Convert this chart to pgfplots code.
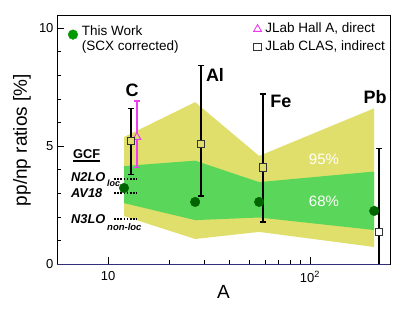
\documentclass[border=0pt]{standalone}
\usepackage{fontspec}
\setmainfont{Liberation Sans}
\usepackage{pgfplots}
\pgfplotsset{compat=1.18}
\definecolor{yband}{HTML}{E1DF6B}
\definecolor{gband}{HTML}{5AD75A}
\definecolor{dgreen}{HTML}{006400}
\definecolor{lgreen}{HTML}{009A00}
\definecolor{mag}{HTML}{F03CF0}
\definecolor{navyax}{HTML}{30307A}
\begin{document}
\begin{tikzpicture}
\path[use as bounding box] (-57pt,-47pt) rectangle (358pt,264pt);
\begin{axis}[at={(0pt,0pt)}, anchor=south west,
  scale only axis, width=333pt, height=248pt,
  xmode=log, xmin=5.59, xmax=249, ymin=0, ymax=10.51,
  xtick={10,100}, xticklabels={10,10\textsuperscript{2}},
  ytick={0,5,10}, minor ytick={1,2,3,4,6,7,8,9},
  xtick pos=left, ytick pos=left, tick align=inside,
  major tick length=7pt, minor tick length=4pt,
  tick style={black, line width=0.6pt},
  axis line style={line width=1pt},
  /pgf/number format/assume math mode=true,
  ticklabel style={font=\fontsize{13}{15}\selectfont},
  xticklabel style={yshift=-4pt},
  xlabel={A}, ylabel={pp/np ratios [\%]},
  label style={font=\fontsize{19}{22}\selectfont},
  xlabel style={at={(axis description cs:0.5,-0.113)}, anchor=center},
  ylabel style={at={(axis description cs:-0.105,0.5)}, anchor=center},
]
% 95% band
\addplot[fill=yband, draw=none] coordinates {
 (12,5.38) (27,6.86) (56,4.58) (208,6.6) (208,0.72) (56,1.36) (27,1.06) (12,2.03)} -- cycle;
% 68% band
\addplot[fill=gband, draw=none] coordinates {
 (12,4.15) (27,4.38) (56,3.47) (208,3.92) (208,1.44) (56,1.97) (27,1.86) (12,2.58)} -- cycle;
% GCF theory lines
\addplot[black, line width=1.6pt, dash pattern=on 1.6pt off 1.6pt] coordinates {(10.7,3.59) (13.9,3.59)};
\addplot[black, line width=1.6pt, dash pattern=on 1.6pt off 1.6pt] coordinates {(10.7,3.02) (13.9,3.02)};
\addplot[black, line width=1.6pt, dash pattern=on 1.6pt off 1.6pt] coordinates {(10.7,1.91) (13.9,1.91)};
% JLab Hall A
\addplot[mag, only marks, mark=triangle*, mark size=4.5pt, line width=1pt,
  mark options={fill=yband},
  error bars/.cd, y dir=both, y explicit,
  error bar style={line width=1.4pt, mag},
  error mark options={rotate=90, mark size=3pt, line width=1.4pt, mag}]
  coordinates {(13.9,5.38) += (0,1.52) -= (0,1.28)};
% JLab CLAS error bars
\addplot[draw=none, mark=none, error bars/.cd, y dir=both, y explicit,
  error bar style={line width=1.4pt, black},
  error mark options={rotate=90, mark size=3pt, line width=1.4pt, black}]
  coordinates {(13,5.21) += (0,1.39) -= (0,1.41)
               (28.8,5.08) += (0,3.32) -= (0,2.2)
               (58.5,4.1) += (0,3.1) -= (0,2.32)
               (220,1.36) += (0,3.54) -= (0,2.5)};
\addplot[only marks, mark=square*, mark size=3.8pt, mark options={draw=black!80, fill=yband, line width=0.9pt}]
  coordinates {(13,5.21) (28.8,5.08) (58.5,4.1)};
\addplot[only marks, mark=square*, mark size=3.8pt, mark options={draw=black!80, fill=white, line width=0.9pt}]
  coordinates {(220,1.36)};
% this work
\addplot[only marks, mark=*, mark size=4.8pt, dgreen]
  coordinates {(12,3.22) (27,2.63) (56,2.63) (208,2.25)};
\end{axis}
\begin{axis}[at={(0pt,0pt)}, anchor=south west,
  scale only axis, width=333pt, height=248pt,
  xmin=0, xmax=1, ymin=0, ymax=1, hide axis,
  legend image code/.code={\draw[#1] plot coordinates {(0pt,0pt)};},
  legend cell align=left,
  legend style={at={(rel axis cs:0.033,0.925)}, anchor=west, draw=none, fill=none,
    inner sep=0pt, column sep=4pt, nodes={inner sep=0pt},
    font=\fontsize{13.5}{15}\selectfont},
]
\addlegendimage{only marks, mark=*, mark size=4.8pt, lgreen}
\addlegendentry{\begin{tabular}{@{}l@{}}This Work\\(SCX corrected)\end{tabular}}
\end{axis}
\begin{axis}[at={(0pt,0pt)}, anchor=south west,
  scale only axis, width=333pt, height=248pt,
  xmin=0, xmax=1, ymin=0, ymax=1, hide axis,
  legend image code/.code={\draw[#1] plot coordinates {(0pt,0pt)};},
  legend cell align=left,
  legend style={at={(rel axis cs:0.59,0.911)}, anchor=west, draw=none, fill=none,
    inner sep=0pt, column sep=4pt, row sep=6pt,
    nodes={inner sep=0pt, text height=9pt, text depth=3pt},
    font=\fontsize{13.5}{15}\selectfont},
]
\addlegendimage{only marks, mark=triangle, mark size=4.5pt, line width=0.9pt, mag}
\addlegendentry{JLab Hall A, direct}
\addlegendimage{only marks, mark=square, mark size=3.8pt, line width=0.9pt, black!80}
\addlegendentry{JLab CLAS, indirect}
\end{axis}
\draw[navyax, line width=1pt] (0pt,0pt) -- (333pt,0pt);
% element labels
\node[font=\fontsize{18}{20}\selectfont\bfseries] at (75pt,174pt) {C};
\node[font=\fontsize{18}{20}\selectfont\bfseries] at (158pt,189pt) {Al};
\node[font=\fontsize{18}{20}\selectfont\bfseries] at (224pt,163pt) {Fe};
\node[font=\fontsize{18}{20}\selectfont\bfseries] at (318pt,167pt) {Pb};
\node[white, font=\fontsize{15}{17}\selectfont] at (267pt,105pt) {95\%};
\node[white, font=\fontsize{15}{17}\selectfont] at (267pt,63pt) {68\%};
% GCF labels
\node[anchor=west, inner sep=0pt, font=\fontsize{12.8}{14}\selectfont\bfseries] at (16pt,110pt) {GCF};
\draw[line width=1.1pt] (16pt,103pt) -- (43pt,103pt);
\node[anchor=west, inner sep=0pt, font=\fontsize{12.8}{14}\selectfont\bfseries\itshape] at (14pt,87pt) {N2LO};
\node[anchor=west, inner sep=0pt, font=\fontsize{9}{10}\selectfont\bfseries\itshape] at (50pt,81pt) {loc};
\node[anchor=west, inner sep=0pt, font=\fontsize{12.8}{14}\selectfont\bfseries\itshape] at (14pt,71pt) {AV18};
\node[anchor=west, inner sep=0pt, font=\fontsize{12.8}{14}\selectfont\bfseries\itshape] at (14pt,45pt) {N3LO};
\node[anchor=west, inner sep=0pt, font=\fontsize{9.5}{10}\selectfont\bfseries\itshape] at (50pt,37pt) {non-loc};
\end{tikzpicture}
\end{document}
